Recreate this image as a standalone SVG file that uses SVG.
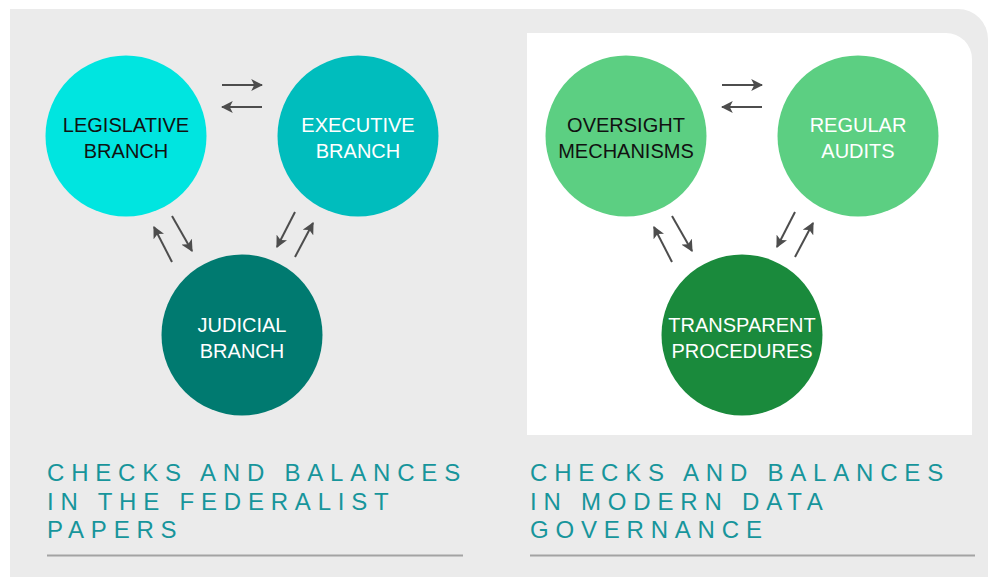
<svg xmlns="http://www.w3.org/2000/svg" width="989" height="577" viewBox="0 0 989 577">
<defs>
<marker id="ah" viewBox="0 0 10 10" refX="9" refY="5" markerWidth="6" markerHeight="6" orient="auto" markerUnits="strokeWidth">
<path d="M0,0 L10,5 L0,10 L2.5,5 Z" fill="#4d4d4d"/>
</marker>
<style>
.lbl{font-family:"Liberation Sans",Arial,sans-serif;font-size:20px;text-anchor:middle}
.dark{fill:#111111}
.light{fill:#ffffff}
.title{font-family:"Liberation Sans",Arial,sans-serif;font-size:24px;fill:#17959b;letter-spacing:6.8px}
.conn line{stroke:#4d4d4d;stroke-width:2;marker-end:url(#ah)}
.rule{stroke:#a3a3a3;stroke-width:2}
</style>
</defs>
<path d="M10,9 H958 A30,30 0 0 1 988,39 V577 H10 Z" fill="#ebebeb"/>
<path d="M527,33 H946 A26,26 0 0 1 972,59 V435 H527 Z" fill="#ffffff"/>

<g id="legislative"><circle cx="126" cy="136" r="80.5" fill="#00e5e0"/><text class="lbl dark" x="126" y="132">LEGISLATIVE</text><text class="lbl dark" x="126" y="158">BRANCH</text></g>
<g id="executive"><circle cx="358" cy="136" r="80.5" fill="#00bdbd"/><text class="lbl light" x="358" y="132">EXECUTIVE</text><text class="lbl light" x="358" y="158">BRANCH</text></g>
<g id="judicial"><circle cx="242" cy="335" r="80.5" fill="#007a70"/><text class="lbl light" x="242" y="332">JUDICIAL</text><text class="lbl light" x="242" y="358">BRANCH</text></g>

<g id="oversight"><circle cx="626" cy="136" r="80.5" fill="#5ccf82"/><text class="lbl dark" x="626" y="132">OVERSIGHT</text><text class="lbl dark" x="626" y="158">MECHANISMS</text></g>
<g id="audits"><circle cx="858" cy="136" r="80.5" fill="#5ccf82"/><text class="lbl light" x="858" y="132">REGULAR</text><text class="lbl light" x="858" y="158">AUDITS</text></g>
<g id="transparent"><circle cx="742" cy="335" r="80.5" fill="#1a8a3c"/><text class="lbl light" x="742" y="332">TRANSPARENT</text><text class="lbl light" x="742" y="358">PROCEDURES</text></g>

<g id="connectors" class="conn">
<line x1="222" y1="85" x2="262" y2="85"/>
<line x1="262" y1="107" x2="222" y2="107"/>
<line x1="172" y1="216" x2="192" y2="251"/>
<line x1="172" y1="262" x2="154" y2="227"/>
<line x1="295" y1="212" x2="277" y2="247"/>
<line x1="295" y1="257" x2="313" y2="223"/>
<line x1="722" y1="85" x2="762" y2="85"/>
<line x1="762" y1="107" x2="722" y2="107"/>
<line x1="672" y1="216" x2="692" y2="251"/>
<line x1="672" y1="262" x2="654" y2="227"/>
<line x1="795" y1="212" x2="777" y2="247"/>
<line x1="795" y1="257" x2="813" y2="223"/>
</g>

<g id="title-left">
<text class="title" x="47" y="481">CHECKS AND BALANCES</text>
<text class="title" x="47" y="510">IN THE FEDERALIST</text>
<text class="title" x="47" y="538">PAPERS</text>
<line class="rule" x1="47" y1="555.5" x2="463" y2="555.5"/>
</g>
<g id="title-right">
<text class="title" x="530" y="481">CHECKS AND BALANCES</text>
<text class="title" x="530" y="510">IN MODERN DATA</text>
<text class="title" x="530" y="538">GOVERNANCE</text>
<line class="rule" x1="530" y1="555.5" x2="975" y2="555.5"/>
</g>
</svg>
